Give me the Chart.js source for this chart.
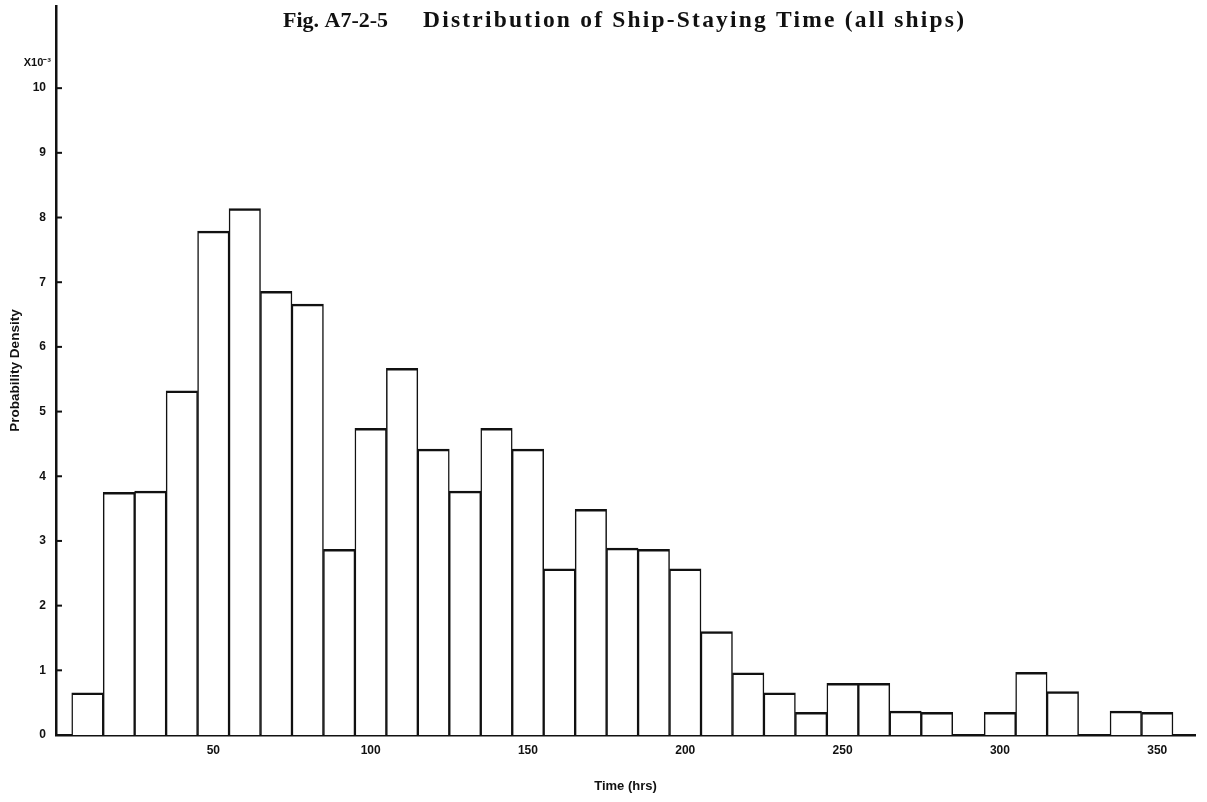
<!DOCTYPE html>
<html>
<head>
<meta charset="utf-8">
<title>Distribution of Ship-Staying Time</title>
<script src="https://cdn.jsdelivr.net/npm/chart.js@4.4.1/dist/chart.umd.min.js"></script>
<style>
  html, body { margin: 0; padding: 0; background: #fff; }
  #wrap { width: 1207px; height: 802px; position: relative; }
</style>
</head>
<body>
<div id="wrap"><canvas id="hist"></canvas></div>
<script>
// Bin centres of the staying-time histogram (hours, 10-hour bins)
const binCenters = [10, 20, 30, 40, 50, 60, 70, 80, 90, 100,
                    110, 120, 130, 140, 150, 160, 170, 180, 190, 200,
                    210, 220, 230, 240, 250, 260, 270, 280, 290, 300,
                    310, 320, 330, 340, 350];
// Probability density per bin, in units of 10^-3
const density = [0.65, 3.75, 3.77, 5.32, 7.79, 8.14, 6.86, 6.66, 2.87, 4.74,
                 5.67, 4.42, 3.77, 4.74, 4.42, 2.57, 3.49, 2.89, 2.87, 2.57,
                 1.60, 0.96, 0.65, 0.35, 0.80, 0.80, 0.37, 0.35, 0, 0.35,
                 0.97, 0.67, 0, 0.37, 0.35];
// Labelled ticks
const xTickLabels = [50, 100, 150, 200, 250, 300, 350];
const yTickLabels = [0, 1, 2, 3, 4, 5, 6, 7, 8, 9, 10];

const figNumber = 'Fig. A7-2-5';
const figCaption = 'Distribution of Ship-Staying Time (all ships)';
const ink = '#111';
const sans = '"Liberation Sans", Arial, sans-serif';
const serif = '"Liberation Serif", "Times New Roman", serif';

// Short inward tick marks on the y axis, plus the heading and exponent note
const decorations = {
  id: 'decorations',
  afterDraw(chart) {
    const { ctx } = chart;
    const y = chart.scales.y;
    ctx.save();
    ctx.strokeStyle = ink;
    ctx.lineWidth = 2;
    y.ticks.forEach(t => {
      const py = y.getPixelForValue(t.value);
      ctx.beginPath();
      ctx.moveTo(y.right, py);
      ctx.lineTo(y.right + 6, py);
      ctx.stroke();
    });
    ctx.fillStyle = ink;
    ctx.textAlign = 'right';
    ctx.textBaseline = 'middle';
    ctx.font = 'bold 11px ' + sans;
    ctx.fillText('X10\u207B\u00B3', y.right - 5, 63);

    ctx.textAlign = 'left';
    ctx.textBaseline = 'alphabetic';
    ctx.font = 'bold 22px ' + serif;
    ctx.fillText(figNumber, 283, 27);
    ctx.font = 'bold 23.5px ' + serif;
    ctx.letterSpacing = '2.2px';
    ctx.fillText(figCaption, 423, 27);
    ctx.restore();
  }
};

new Chart(document.getElementById('hist'), {
  type: 'bar',
  data: {
    datasets: [{
      data: binCenters.map((c, i) => ({ x: c, y: density[i] })),
      backgroundColor: '#ffffff',
      borderColor: ink,
      borderWidth: { top: 2.5, left: 1.5, right: 1.5, bottom: 0 },
      borderSkipped: false,
      barPercentage: 1,
      categoryPercentage: 1
    }]
  },
  options: {
    responsive: true,
    maintainAspectRatio: false,
    animation: false,
    layout: { padding: { top: 6, right: 12, left: 0, bottom: 0 } },
    plugins: {
      legend: { display: false },
      tooltip: { enabled: false }
    },
    scales: {
      x: {
        type: 'linear',
        offset: false,
        min: 0,
        max: 362,
        grid: { display: false, drawTicks: false },
        border: { display: true, color: ink, width: 2.5 },
        afterBuildTicks(scale) {
          scale.ticks = xTickLabels.map(v => ({ value: v }));
        },
        afterFit(scale) {
          scale.height = 67;
          scale.paddingLeft = 0;
          scale.paddingRight = 0;
        },
        ticks: {
          color: ink,
          padding: 8,
          maxRotation: 0,
          autoSkip: false,
          font: { family: sans, size: 12, weight: 'bold' }
        },
        title: {
          display: true,
          text: 'Time (hrs)',
          color: ink,
          padding: { top: 0, bottom: 8 },
          font: { family: sans, size: 13, weight: 'bold' }
        }
      },
      y: {
        min: 0,
        max: 11.27,
        grid: { display: false, drawTicks: false },
        border: { display: true, color: ink, width: 2.5 },
        afterBuildTicks(scale) {
          scale.ticks = yTickLabels.map(v => ({ value: v }));
        },
        afterFit(scale) {
          scale.width = 56;
          scale.paddingTop = 0;
          scale.paddingBottom = 0;
        },
        ticks: {
          color: ink,
          padding: 10,
          autoSkip: false,
          font: { family: sans, size: 12, weight: 'bold' }
        },
        title: {
          display: true,
          text: 'Probability Density',
          color: ink,
          padding: { top: 7, bottom: 0 },
          font: { family: sans, size: 13.5, weight: 'bold' }
        }
      }
    }
  },
  plugins: [decorations]
});
</script>
</body>
</html>
